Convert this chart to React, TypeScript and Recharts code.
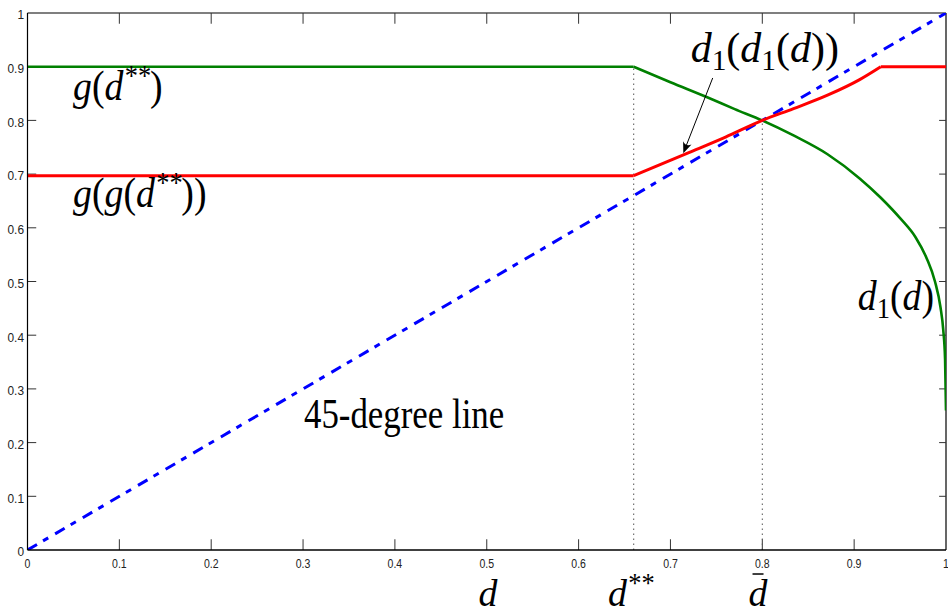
import React from 'react';
import { LineChart, Line, XAxis, YAxis, ReferenceLine, ReferenceDot } from 'recharts';

// ---- data ----
const xTicks = [0, 0.1, 0.2, 0.3, 0.4, 0.5, 0.6, 0.7, 0.8, 0.9, 1];
const xTickLabels = ['0', '0.1', '0.2', '0.3', '0.4', '0.5', '0.6', '0.7', '0.8', '0.9', '1'];
const yTicks = [0, 0.1, 0.2, 0.3, 0.4, 0.5, 0.6, 0.7, 0.8, 0.9, 1];
const yTickLabels = ['0', '0.1', '0.2', '0.3', '0.4', '0.5', '0.6', '0.7', '0.8', '0.9', '1'];

const greenX = [0, 0.66, 0.7, 0.74, 0.77, 0.8, 0.834, 0.871, 0.906, 0.929, 0.95, 0.967, 0.979, 0.988, 0.994, 0.997, 0.999, 1.0];
const greenY = [0.9, 0.9, 0.871, 0.843, 0.821, 0.8, 0.772, 0.737, 0.692, 0.656, 0.618, 0.582, 0.543, 0.5, 0.452, 0.41, 0.355, 0.26];

const redX = [0, 0.66, 0.72, 0.76, 0.8, 0.834, 0.871, 0.906, 0.929, 1.0];
const redY = [0.697, 0.697, 0.74, 0.769, 0.8, 0.822, 0.847, 0.876, 0.9, 0.9];

const blueX = [0, 1];
const blueY = [0, 1];

const dStarStar = 0.66;
const dBar = 0.8;
const gDss = 0.9;

const zip = (xs: number[], ys: number[]) => xs.map((x, i) => ({ x, y: ys[i] }));
const greenFlat = zip(greenX.slice(0, 2), greenY.slice(0, 2));
const greenCurve = zip(greenX.slice(1), greenY.slice(1));
const redFlatL = zip(redX.slice(0, 2), redY.slice(0, 2));
const redCurve = zip(redX.slice(1, 9), redY.slice(1, 9));
const redFlatR = zip(redX.slice(8), redY.slice(8));
const blueData = zip(blueX, blueY);

// tick mark lengths, in axis units (≈11px vertical, ≈9px horizontal)
const TICK_LEN_Y = 0.02;
const TICK_LEN_X = 0.0095;
const TICK_LEN_XR = 0.0075;

const SERIF = "'Liberation Serif', 'Times New Roman', serif";
const SANS = "'Liberation Sans', Arial, sans-serif";

const FS = 42;
const it = { fontStyle: 'italic' as const };

const MathText = ({ cx, cy, sx, fs, children }: any) => (
  <g transform={`translate(${cx},${cy}) scale(${sx},1)`}>
    <text x={0} y={0} fontFamily={SERIF} fontSize={fs} fill="#000">
      {children}
    </text>
  </g>
);

const xLabelShape = (label: string) => (p: any) => (
  <g transform={`translate(${p.cx},${p.cy + 18}) scale(0.78,1)`}>
    <text x={0} y={0} textAnchor="middle" fontSize={13.5} fontFamily={SANS} fill="#222">
      {label}
    </text>
  </g>
);
const yLabelShape = (label: string) => (p: any) => (
  <g transform={`translate(${p.cx - 3.5},${p.cy + 6.3}) scale(0.88,1)`}>
    <text x={0} y={0} textAnchor="end" fontSize={13.5} fontFamily={SANS} fill="#222">
      {label}
    </text>
  </g>
);

const labelGdss = (p: any) => (
  <MathText cx={p.cx} cy={p.cy} sx={0.9} fs={FS}>
    <tspan style={it}>g</tspan>
    <tspan>(</tspan>
    <tspan style={it}>d</tspan>
    <tspan fontSize={FS * 0.7} dy={-FS * 0.36} style={it}>**</tspan>
    <tspan dy={FS * 0.36}>)</tspan>
  </MathText>
);
const labelGGdss = (p: any) => (
  <MathText cx={p.cx} cy={p.cy} sx={0.9} fs={FS}>
    <tspan style={it}>g</tspan>
    <tspan>(</tspan>
    <tspan style={it}>g</tspan>
    <tspan>(</tspan>
    <tspan style={it}>d</tspan>
    <tspan fontSize={FS * 0.7} dy={-FS * 0.36} style={it}>**</tspan>
    <tspan dy={FS * 0.36}>))</tspan>
  </MathText>
);
const labelD1D1 = (p: any) => (
  <MathText cx={p.cx} cy={p.cy} sx={1.0} fs={FS}>
    <tspan style={it}>d</tspan>
    <tspan fontSize={FS * 0.7} dy={FS * 0.2}>1</tspan>
    <tspan dy={-FS * 0.2}>(</tspan>
    <tspan style={it}>d</tspan>
    <tspan fontSize={FS * 0.7} dy={FS * 0.2}>1</tspan>
    <tspan dy={-FS * 0.2}>(</tspan>
    <tspan style={it}>d</tspan>
    <tspan>))</tspan>
  </MathText>
);
const labelD1 = (p: any) => (
  <MathText cx={p.cx} cy={p.cy} sx={0.9} fs={FS}>
    <tspan style={it}>d</tspan>
    <tspan fontSize={FS * 0.7} dy={FS * 0.2}>1</tspan>
    <tspan dy={-FS * 0.2}>(</tspan>
    <tspan style={it}>d</tspan>
    <tspan>)</tspan>
  </MathText>
);
const label45 = (p: any) => (
  <MathText cx={p.cx} cy={p.cy} sx={0.83} fs={FS}>
    <tspan>45-degree line</tspan>
  </MathText>
);
const BFS = 39;
const labelD = (p: any) => (
  <MathText cx={p.cx} cy={p.cy} sx={0.97} fs={BFS}>
    <tspan style={it}>d</tspan>
  </MathText>
);
const labelDss = (p: any) => (
  <MathText cx={p.cx} cy={p.cy} sx={0.97} fs={BFS}>
    <tspan style={it}>d</tspan>
    <tspan fontSize={BFS * 0.7} dy={-BFS * 0.36} style={it}>**</tspan>
  </MathText>
);
const labelDbar = (p: any) => (
  <g>
    <MathText cx={p.cx} cy={p.cy} sx={0.97} fs={BFS}>
      <tspan style={it}>d</tspan>
    </MathText>
    <line x1={p.cx + 4} y1={p.cy - 32} x2={p.cx + 15} y2={p.cy - 32} stroke="#000" strokeWidth={1.5} />
  </g>
);

const ArrowShape = (p: any) => {
  const { x1, y1, x2, y2 } = p;
  if ([x1, y1, x2, y2].some((v) => typeof v !== 'number' || isNaN(v))) return <g />;
  const dx = x2 - x1;
  const dy = y2 - y1;
  const len = Math.sqrt(dx * dx + dy * dy);
  const ux = dx / len;
  const uy = dy / len;
  const px = -uy;
  const py = ux;
  const hl = 11;
  const hw = 4.5;
  const bx = x2 - ux * hl;
  const by = y2 - uy * hl;
  const mx = x2 - ux * hl * 0.6;
  const my = y2 - uy * hl * 0.6;
  return (
    <g>
      <line x1={x1} y1={y1} x2={mx} y2={my} stroke="#000" strokeWidth={1} />
      <path
        d={`M${x2},${y2} L${bx + px * hw},${by + py * hw} Q${mx},${my} ${bx - px * hw},${by - py * hw} Z`}
        fill="#000"
      />
    </g>
  );
};

const ax = { xAxisId: 'b', yAxisId: 'l' } as any;
const lineCommon = {
  ...ax,
  dataKey: 'y',
  dot: false,
  activeDot: false,
  isAnimationActive: false,
} as any;

export default function App() {
  const innerX = xTicks.slice(1, -1);
  const innerY = yTicks.slice(1, -1);
  return (
    <div style={{ position: 'absolute', left: 0, top: 0 }}>
      <LineChart width={948} height={615} margin={{ top: 13, right: 2, bottom: 0, left: 0 }}>
        <XAxis
          xAxisId="b"
          type="number"
          dataKey="x"
          domain={[0, 1]}
          ticks={xTicks}
          allowDataOverflow
          height={65}
          tick={false}
          tickLine={false}
          axisLine={{ stroke: '#000', strokeWidth: 1.3 }}
        />
        <YAxis
          yAxisId="l"
          type="number"
          domain={[0, 1]}
          ticks={yTicks}
          allowDataOverflow
          width={27.5}
          tick={false}
          tickLine={false}
          axisLine={{ stroke: '#000', strokeWidth: 1.2 }}
        />

        {/* box: top and right edges */}
        <ReferenceLine {...ax} y={1} stroke="#000" strokeWidth={1.2} />
        <ReferenceLine {...ax} x={1} stroke="#000" strokeWidth={1.2} />

        {/* inward tick marks */}
        {innerX.map((t) => (
          <ReferenceLine key={'bx' + t} {...ax} segment={[{ x: t, y: 0 }, { x: t, y: TICK_LEN_Y }]} stroke="#333" strokeWidth={1} />
        ))}
        {innerX.map((t) => (
          <ReferenceLine key={'tx' + t} {...ax} segment={[{ x: t, y: 1 }, { x: t, y: 1 - TICK_LEN_Y }]} stroke="#333" strokeWidth={1} />
        ))}
        {innerY.map((t) => (
          <ReferenceLine key={'ly' + t} {...ax} segment={[{ x: 0, y: t }, { x: TICK_LEN_X, y: t }]} stroke="#333" strokeWidth={1} />
        ))}
        {innerY.map((t) => (
          <ReferenceLine key={'ry' + t} {...ax} segment={[{ x: 1, y: t }, { x: 1 - TICK_LEN_XR, y: t }]} stroke="#333" strokeWidth={1} />
        ))}

        {/* tick labels */}
        {xTicks.map((t, i) => (
          <ReferenceDot key={'xl' + t} {...ax} x={t} y={0} r={0} ifOverflow="visible" shape={xLabelShape(xTickLabels[i])} />
        ))}
        {yTicks.map((t, i) => (
          <ReferenceDot key={'yl' + t} {...ax} x={0} y={t} r={0} ifOverflow="visible" shape={yLabelShape(yTickLabels[i])} />
        ))}

        <ReferenceLine
          {...ax}
          segment={[{ x: dStarStar, y: 0 }, { x: dStarStar, y: gDss }]}
          stroke="#555"
          strokeWidth={1}
          strokeDasharray="1.5 3.5"
        />
        <ReferenceLine
          {...ax}
          segment={[{ x: dBar, y: 0 }, { x: dBar, y: dBar }]}
          stroke="#555"
          strokeWidth={1}
          strokeDasharray="1.5 3.5"
        />

        <Line {...lineCommon} data={greenFlat} type="linear" stroke="#008000" strokeWidth={2.6} />
        <Line {...lineCommon} data={greenCurve} type="monotone" stroke="#008000" strokeWidth={2.6} />
        <Line
          {...lineCommon}
          data={blueData}
          type="linear"
          stroke="#0000ff"
          strokeWidth={3}
          strokeDasharray="11 7 6 8"
        />
        <Line {...lineCommon} data={redFlatL} type="linear" stroke="#ff0000" strokeWidth={3} />
        <Line {...lineCommon} data={redCurve} type="monotone" stroke="#ff0000" strokeWidth={3} />
        <Line {...lineCommon} data={redFlatR} type="linear" stroke="#ff0000" strokeWidth={3} />

        <ReferenceLine
          {...ax}
          segment={[{ x: 0.746, y: 0.879 }, { x: 0.714, y: 0.739 }]}
          stroke="#000"
          shape={ArrowShape}
        />

        <ReferenceDot {...ax} x={0.0496} y={0.838} r={0} shape={labelGdss} ifOverflow="visible" />
        <ReferenceDot {...ax} x={0.0496} y={0.639} r={0} shape={labelGGdss} ifOverflow="visible" />
        <ReferenceDot {...ax} x={0.722} y={0.909} r={0} shape={labelD1D1} ifOverflow="visible" />
        <ReferenceDot {...ax} x={0.904} y={0.447} r={0} shape={labelD1} ifOverflow="visible" />
        <ReferenceDot {...ax} x={0.301} y={0.227} r={0} shape={label45} ifOverflow="visible" />
        <ReferenceDot {...ax} x={0.491} y={-0.1043} r={0} shape={labelD} ifOverflow="visible" />
        <ReferenceDot {...ax} x={0.632} y={-0.1043} r={0} shape={labelDss} ifOverflow="visible" />
        <ReferenceDot {...ax} x={0.785} y={-0.1043} r={0} shape={labelDbar} ifOverflow="visible" />
      </LineChart>
    </div>
  );
}
